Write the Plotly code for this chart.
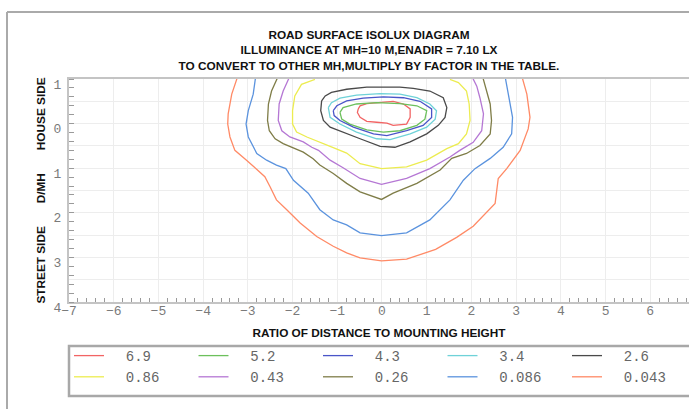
import plotly.graph_objects as go

# ---------------- data ----------------
levels = ["6.9", "5.2", "4.3", "3.4", "2.6", "0.86", "0.43", "0.26", "0.086", "0.043"]

# closed isolux loops (ratio x, D/MH y; house side positive)
iso_6_9_x = [-0.53, -0.49, -0.34, -0.04, 0.25, 0.48, 0.63, 0.63, 0.55, 0.25, 0.11, -0.12, -0.34, -0.49, -0.55]
iso_6_9_y = [0.33, 0.40, 0.45, 0.47, 0.50, 0.44, 0.33, 0.14, -0.01, -0.04, 0.01, 0.03, 0.05, 0.14, 0.25]

iso_5_2_x = [-0.94, -0.87, -0.57, -0.12, 0.40, 0.78, 1.00, 0.96, 0.78, 0.40, 0.03, -0.34, -0.72, -0.90]
iso_5_2_y = [0.25, 0.36, 0.44, 0.47, 0.45, 0.40, 0.29, 0.10, -0.04, -0.16, -0.19, -0.14, -0.01, 0.10]

iso_4_3_x = [-1.09, -1.01, -0.79, -0.42, 0.03, 0.48, 0.85, 1.11, 1.11, 0.92, 0.55, 0.11, -0.19, -0.64, -0.94, -1.07]
iso_4_3_y = [0.29, 0.40, 0.51, 0.57, 0.60, 0.58, 0.50, 0.33, 0.14, -0.04, -0.16, -0.27, -0.23, -0.08, 0.07, 0.18]

iso_3_4_x = [-1.20, -1.13, -0.94, -0.57, -0.04, 0.40, 0.78, 1.07, 1.22, 1.19, 1.00, 0.63, 0.18, -0.12, -0.57, -0.94, -1.16]
iso_3_4_y = [0.36, 0.47, 0.57, 0.64, 0.67, 0.66, 0.58, 0.44, 0.29, 0.10, -0.08, -0.23, -0.36, -0.34, -0.19, -0.01, 0.14]

iso_2_6_x = [-1.35, -1.27, -1.13, -0.79, -0.34, 0.11, 0.40, 0.70, 1.07, 1.37, 1.45, 1.41, 1.26, 1.00, 0.63, 0.29,
             -0.04, -0.49, -0.87, -1.16, -1.31, -1.37]
iso_2_6_y = [0.51, 0.62, 0.70, 0.77, 0.82, 0.82, 0.82, 0.79, 0.73, 0.58, 0.36, 0.14, -0.04, -0.23, -0.41, -0.53,
             -0.51, -0.34, -0.19, -0.08, 0.07, 0.29]

# open isolux lines (leave through the house-side edge)
iso_0_86_x = [-1.50, -1.80, -1.95, -2.00, -2.00, -1.91, -1.68, -1.39, -1.09, -0.79, -0.49, -0.01, 0.55, 1.00,
              1.45, 1.71, 1.89, 1.97, 1.95, 1.89, 1.71, 1.52]
iso_0_86_y = [0.99, 0.88, 0.62, 0.29, -0.01, -0.19, -0.30, -0.41, -0.54, -0.66, -0.90, -1.01, -0.97, -0.82,
              -0.56, -0.45, -0.23, 0.07, 0.44, 0.73, 0.92, 0.99]

iso_0_43_x = [-2.08, -2.21, -2.30, -2.32, -2.24, -2.06, -1.76, -1.57, -1.42, -1.16, -0.87, -0.49, -0.01, 0.55,
              1.07, 1.52, 1.74, 2.04, 2.23, 2.27, 2.19, 2.12, 2.03]
iso_0_43_y = [1.02, 0.73, 0.44, 0.07, -0.16, -0.30, -0.41, -0.53, -0.60, -0.82, -0.99, -1.23, -1.36, -1.23,
              -1.01, -0.75, -0.60, -0.42, -0.16, 0.22, 0.58, 0.84, 1.02]

iso_0_26_x = [-2.34, -2.47, -2.54, -2.56, -2.52, -2.39, -2.21, -1.98, -1.76, -1.54, -1.39, -1.09, -0.79, -0.49,
              -0.01, 0.25, 0.78, 1.30, 1.56, 1.89, 2.19, 2.42, 2.45, 2.42, 2.34, 2.26]
iso_0_26_y = [1.02, 0.73, 0.44, 0.07, -0.16, -0.34, -0.45, -0.54, -0.64, -0.79, -0.93, -1.12, -1.34, -1.53,
              -1.70, -1.56, -1.34, -1.04, -0.78, -0.67, -0.49, -0.23, 0.07, 0.44, 0.73, 1.02]

iso_0_086_x = [-2.83, -2.88, -2.99, -3.04, -2.99, -2.80, -2.58, -2.36, -2.15, -1.98, -1.65, -1.39, -1.09, -0.79,
               -0.49, -0.01, 0.55, 1.07, 1.52, 1.82, 2.08, 2.42, 2.71, 2.90, 2.92, 2.86, 2.76]
iso_0_086_y = [1.02, 0.66, 0.29, -0.01, -0.30, -0.67, -0.82, -0.93, -1.01, -1.27, -1.56, -1.93, -2.16, -2.27,
               -2.45, -2.51, -2.45, -2.16, -1.71, -1.27, -1.01, -0.78, -0.53, -0.23, 0.14, 0.51, 1.02]

iso_0_043_x = [-3.24, -3.36, -3.44, -3.45, -3.40, -3.29, -3.03, -2.80, -2.62, -2.50, -2.36, -2.13, -1.83, -1.46,
               -1.09, -0.79, -0.49, -0.01, 0.55, 1.20, 1.67, 2.04, 2.53, 2.60, 2.79, 3.09, 3.27, 3.31, 3.24, 3.14]
iso_0_043_y = [1.02, 0.66, 0.22, -0.01, -0.30, -0.60, -0.82, -1.04, -1.19, -1.42, -1.71, -1.93, -2.23, -2.53,
               -2.75, -2.90, -3.01, -3.08, -3.04, -2.82, -2.55, -2.30, -1.79, -1.23, -1.01, -0.60, -0.12, 0.14, 0.66, 1.02]

closed_levels = ["6.9", "5.2", "4.3", "3.4", "2.6"]

y_tick_vals = [-4, -3.5, -3, -2.5, -2, -1.5, -1, -0.5, 0, 0.5, 1]
y_tick_text = ["4", "", "3", "", "2", "", "1", "", "0", "", "1"]

# ---------------- styles ----------------
line_colors = ["#f26464", "#6cc05c", "#4a55c8", "#6fd2d8", "#4a4a4a",
               "#ecec50", "#b577d4", "#7f7d48", "#5b93de", "#ff8a66"]

series_x = [iso_6_9_x, iso_5_2_x, iso_4_3_x, iso_3_4_x, iso_2_6_x,
            iso_0_86_x, iso_0_43_x, iso_0_26_x, iso_0_086_x, iso_0_043_x]
series_y = [iso_6_9_y, iso_5_2_y, iso_4_3_y, iso_3_4_y, iso_2_6_y,
            iso_0_86_y, iso_0_43_y, iso_0_26_y, iso_0_086_y, iso_0_043_y]

W, H = 689, 409
L, R, T, B = 69, 0, 79, 107
PW, PH = W - L - R, H - T - B


def px_x(px):
    return (px - L) / PW


def px_y(py):
    return (H - B - py) / PH


fig = go.Figure()
for name, xs, ys, col in zip(levels, series_x, series_y, line_colors):
    if name in closed_levels:
        xs = xs + xs[:1]
        ys = ys + ys[:1]
    fig.add_trace(go.Scatter(
        x=xs, y=ys, mode="lines", name="\u00a0\u00a0" + name,
        line=dict(color=col, width=1.3),
        hoverinfo="name",
    ))

bold_font = dict(family="Liberation Sans", size=11.8, color="#111111", weight="bold")
tick_font = dict(family="Liberation Mono", size=13, color="#7a7a7a")
axis_grey = "#c4c4c4"
nb = "\u00a0" * 7

fig.update_layout(
    width=W, height=H,
    margin=dict(l=L, r=R, t=T, b=B, autoexpand=False),
    paper_bgcolor="white", plot_bgcolor="white",
    showlegend=True,
    title=dict(
        text="ROAD SURFACE ISOLUX DIAGRAM<br>ILLUMINANCE AT MH=10 M,ENADIR = 7.10 LX<br>"
             "TO CONVERT TO OTHER MH,MULTIPLY BY FACTOR IN THE TABLE.",
        x=369 / W, xanchor="center", xref="container",
        y=1 - 39 / H, yanchor="middle", yref="container",
        font=bold_font,
    ),
    xaxis=dict(
        range=[-7, (W - 382) / 44.71], dtick=1, tick0=0,
        showgrid=True, gridcolor="#ededed", gridwidth=1, zeroline=False,
        showline=True, linecolor=axis_grey, linewidth=2, mirror=True,
        ticks="", tickfont=tick_font, ticklabelstandoff=-5,
        minor=dict(ticks="inside", dtick=0.2, tick0=0, ticklen=4, tickcolor="#9a9a9a", showgrid=False),
        title=dict(text="RATIO OF DISTANCE TO MOUNTING HEIGHT", font=bold_font, standoff=11),
        fixedrange=True,
    ),
    yaxis=dict(
        range=[-4, 1], tickmode="array", tickvals=y_tick_vals, ticktext=y_tick_text,
        showgrid=True, gridcolor="#ededed", gridwidth=1, zeroline=False,
        showline=True, linecolor=axis_grey, linewidth=2, mirror=False,
        ticks="", tickfont=tick_font, ticklabelshift=5, ticklabelstandoff=3,
        minor=dict(ticks="inside", dtick=0.2, tick0=0, ticklen=5, tickcolor="#9a9a9a", showgrid=False),
        title=dict(text="STREET SIDE" + nb + "D/MH" + nb + "HOUSE SIDE", font=bold_font, standoff=5),
        fixedrange=True,
    ),
    legend=dict(
        orientation="h", x=0, xanchor="left", y=px_y(340), yanchor="top",
        font=dict(family="Liberation Mono", size=14, color="#666666"),
        bgcolor="rgba(0,0,0,0)", borderwidth=0,
        entrywidth=79.5, entrywidthmode="pixels", itemwidth=30,
        traceorder="normal",
    ),
    shapes=[
        dict(type="line", xref="paper", yref="paper", x0=px_x(7), x1=px_x(7), y0=px_y(12), y1=px_y(412),
             line=dict(color="#aaaaaa", width=2), layer="above"),
        dict(type="line", xref="paper", yref="paper", x0=px_x(7), x1=px_x(700), y0=px_y(12), y1=px_y(12),
             line=dict(color="#aaaaaa", width=2), layer="above"),
        dict(type="rect", xref="paper", yref="paper", x0=px_x(69), x1=px_x(705), y0=px_y(396), y1=px_y(346),
             line=dict(color="#a8a8a8", width=2.5), fillcolor="rgba(0,0,0,0)"),
    ],
)

fig.write_html("out.html", config={"displayModeBar": False},
               post_script="document.body.style.margin='0px';")
